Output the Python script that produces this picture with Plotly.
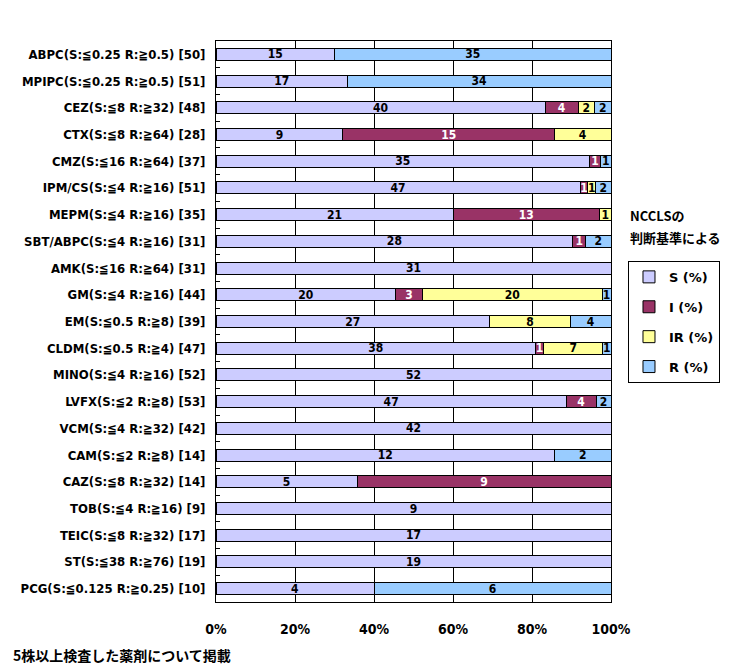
import plotly.graph_objects as go

# drug labels (top to bottom) with NCCLS breakpoints and number of strains
drugs = [
    'ABPC(S:≦0.25 R:≧0.5) [50]',
    'MPIPC(S:≦0.25 R:≧0.5) [51]',
    'CEZ(S:≦8 R:≧32) [48]',
    'CTX(S:≦8 R:≧64) [28]',
    'CMZ(S:≦16 R:≧64) [37]',
    'IPM/CS(S:≦4 R:≧16) [51]',
    'MEPM(S:≦4 R:≧16) [35]',
    'SBT/ABPC(S:≦4 R:≧16) [31]',
    'AMK(S:≦16 R:≧64) [31]',
    'GM(S:≦4 R:≧16) [44]',
    'EM(S:≦0.5 R:≧8) [39]',
    'CLDM(S:≦0.5 R:≧4) [47]',
    'MINO(S:≦4 R:≧16) [52]',
    'LVFX(S:≦2 R:≧8) [53]',
    'VCM(S:≦4 R:≧32) [42]',
    'CAM(S:≦2 R:≧8) [14]',
    'CAZ(S:≦8 R:≧32) [14]',
    'TOB(S:≦4 R:≧16) [9]',
    'TEIC(S:≦8 R:≧32) [17]',
    'ST(S:≦38 R:≧76) [19]',
    'PCG(S:≦0.125 R:≧0.25) [10]',
]

# strain counts per category
s_cnt = [15, 17, 40, 9, 35, 47, 21, 28, 31, 20, 27, 38, 52, 47, 42, 12, 5, 9, 17, 19, 4]
i_cnt = [0, 0, 4, 15, 1, 1, 13, 1, 0, 3, 0, 1, 0, 4, 0, 0, 9, 0, 0, 0, 0]
ir_cnt = [0, 0, 2, 4, 0, 1, 1, 0, 0, 20, 8, 7, 0, 0, 0, 0, 0, 0, 0, 0, 0]
r_cnt = [35, 34, 2, 0, 1, 2, 0, 2, 0, 1, 4, 1, 0, 2, 0, 2, 0, 0, 0, 0, 6]

series = [
    ('S (%)', s_cnt, '#CCCCFF', 'black'),
    ('I (%)', i_cnt, '#993366', 'white'),
    ('IR (%)', ir_cnt, '#FFFF99', 'black'),
    ('R (%)', r_cnt, '#99CCFF', 'black'),
]

narrow = 'DejaVu Sans Condensed, Liberation Sans Narrow, Noto Sans CJK JP, sans-serif'
cjk = 'Noto Sans CJK JP, sans-serif'

fig = go.Figure()
for name, vals, color, tcolor in series:
    fig.add_trace(go.Bar(
        y=drugs, x=vals, name=name, orientation='h',
        marker=dict(color=color, line=dict(color='black', width=1)),
        text=[str(v) if v > 0 else '' for v in vals],
        textposition='inside', insidetextanchor='middle', textangle=0,
        constraintext='none',
        textfont=dict(family=narrow, size=12, color=tcolor, weight='bold'),
        legendgroup=name, hoverinfo='skip',
    ))

# page body adds 8px margin, so the figure is 8px smaller than the window
fig.update_layout(
    width=730, height=664,
    barmode='stack', barnorm='percent', bargap=0.55,
    paper_bgcolor='white', plot_bgcolor='white',
    margin=dict(l=208, r=127, t=33, b=70),
    font=dict(family=narrow, size=13, color='black'),
    showlegend=True,
    legend=dict(
        x=1.043, y=0.608, xanchor='left', yanchor='top',
        bordercolor='black', borderwidth=1, bgcolor='white',
        traceorder='grouped', tracegroupgap=10,
        font=dict(family='DejaVu Sans, sans-serif', size=13, weight='bold'),
    ),
    xaxis=dict(
        range=[0, 100], dtick=20, ticksuffix='%', automargin=False,
        showgrid=True, gridcolor='black', gridwidth=1,
        showline=True, linecolor='black', linewidth=1, mirror=True,
        ticks='', ticklabelstandoff=14, zeroline=False,
        tickfont=dict(family=narrow, size=14, weight='bold'),
    ),
    yaxis=dict(
        autorange='reversed', showgrid=False, automargin=False,
        showline=True, linecolor='black', linewidth=1, mirror=True,
        ticks='inside', ticklen=4, tickcolor='black', tickson='boundaries',
        ticklabelstandoff=7,
        tickfont=dict(family=narrow, size=13, weight='bold'),
    ),
)

fig.add_annotation(text='NCCLSの', xref='paper', yref='paper', x=1.043, y=0.689,
                   xanchor='left', yanchor='middle', showarrow=False,
                   font=dict(family=cjk, size=13, weight='bold'))
fig.add_annotation(text='判断基準による', xref='paper', yref='paper', x=1.043, y=0.649,
                   xanchor='left', yanchor='middle', showarrow=False,
                   font=dict(family=cjk, size=13, weight='bold'))
fig.add_annotation(text='5株以上検査した薬剤について掲載', xref='paper', yref='paper',
                   x=-0.52, y=-0.094, xanchor='left', yanchor='middle', showarrow=False,
                   font=dict(family=cjk, size=14, weight='bold'))

fig.write_html('out.html')
